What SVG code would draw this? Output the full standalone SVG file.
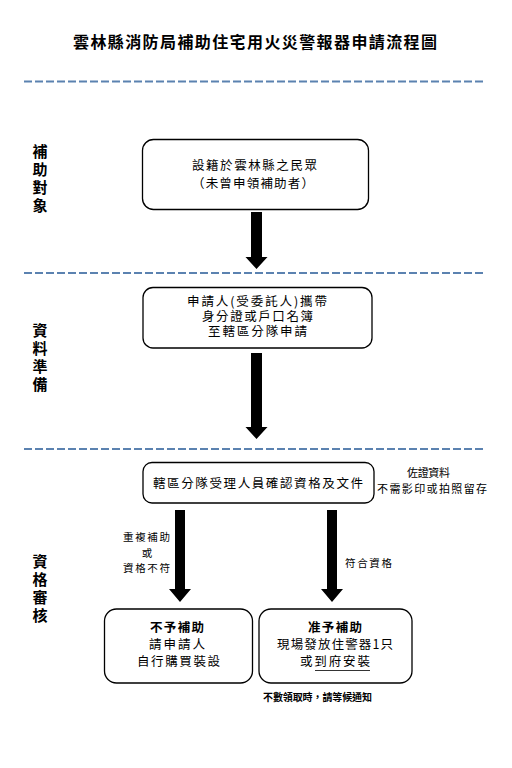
<svg xmlns="http://www.w3.org/2000/svg" width="512" height="768" viewBox="0 0 512 768">
<style>
text{font-family:"Noto Sans CJK TC","Noto Sans CJK SC",sans-serif;fill:#000}
.t{font-size:12.5px}
.b{font-weight:bold}
.lab{font-size:15px;font-weight:bold;text-anchor:middle}
.sm{font-size:10.5px}
.box{fill:#fff;stroke:#000;stroke-width:1.3}
.dash{stroke:#5b82b0;stroke-width:2;stroke-dasharray:8 3;fill:none}
.arr{fill:#000}
</style>
<rect width="512" height="768" fill="#fff"/>
<text x="73" y="48" textLength="364" lengthAdjust="spacing" style="font-size:16px;font-weight:bold">雲林縣消防局補助住宅用火災警報器申請流程圖</text>
<g id="separators">
<line class="dash" x1="24" y1="81.5" x2="486" y2="81.5"/>
<line class="dash" x1="24" y1="273" x2="486" y2="273"/>
<line class="dash" x1="24" y1="449" x2="486" y2="449"/>
</g>
<g id="section-labels">
<text class="lab" x="40" y="157">補</text>
<text class="lab" x="40" y="175">助</text>
<text class="lab" x="40" y="193">對</text>
<text class="lab" x="40" y="211">象</text>
<text class="lab" x="40" y="336">資</text>
<text class="lab" x="40" y="354">料</text>
<text class="lab" x="40" y="372">準</text>
<text class="lab" x="40" y="390">備</text>
<text class="lab" x="40" y="567">資</text>
<text class="lab" x="40" y="585">格</text>
<text class="lab" x="40" y="603">審</text>
<text class="lab" x="40" y="621">核</text>
</g>
<g id="connectors">
<path class="arr" d="M251,212 H262 V257 H267.5 L256.5,269 L245.5,257 H251 Z"/>
<path class="arr" d="M251,353 H262 V427 H267.5 L256.5,439 L245.5,427 H251 Z"/>
<path class="arr" d="M175,510 H185 V589 H191 L180,602 L169,589 H175 Z"/>
<path class="arr" d="M327,510 H337 V589 H343 L332,602 L321,589 H327 Z"/>
<text class="sm" x="123" y="541" textLength="47" lengthAdjust="spacing">重複補助</text>
<text class="sm" x="147" y="557" text-anchor="middle">或</text>
<text class="sm" x="123" y="572" textLength="47" lengthAdjust="spacing">資格不符</text>
<text class="sm" x="345" y="567" textLength="47" lengthAdjust="spacing">符合資格</text>
</g>
<g id="node-target">
<rect class="box" x="142.5" y="139.5" width="226" height="70" rx="11"/>
<text class="t" x="192" y="169.5" textLength="125" lengthAdjust="spacing">設籍於雲林縣之民眾</text>
<text class="t" x="192" y="187.5" textLength="122" lengthAdjust="spacing">（未曾申領補助者）</text>
</g>
<g id="node-prepare">
<rect class="box" x="143" y="287.5" width="229" height="60.5" rx="10"/>
<text class="t" x="187" y="305.5" textLength="140" lengthAdjust="spacing">申請人(受委託人)攜帶</text>
<text class="t" x="202" y="320.5" textLength="111" lengthAdjust="spacing">身分證或戶口名簿</text>
<text class="t" x="208" y="335.5" textLength="99" lengthAdjust="spacing">至轄區分隊申請</text>
</g>
<g id="node-review">
<rect class="box" x="143" y="462.5" width="231" height="40.5" rx="9"/>
<text class="t" x="153" y="487.5" textLength="210" lengthAdjust="spacing">轄區分隊受理人員確認資格及文件</text>
</g>
<g id="note-docs">
<text class="sm" x="407" y="477" textLength="43" lengthAdjust="spacing" style="font-size:11px">佐證資料</text>
<text class="sm" x="377" y="493" textLength="110" lengthAdjust="spacing" style="font-size:11px">不需影印或拍照留存</text>
</g>
<g id="node-reject">
<rect class="box" x="104.5" y="609" width="148" height="74" rx="12"/>
<text class="t b" x="150" y="632" textLength="54" lengthAdjust="spacing">不予補助</text>
<text class="t" x="149" y="649" textLength="56" lengthAdjust="spacing">請申請人</text>
<text class="t" x="137" y="666" textLength="83" lengthAdjust="spacing">自行購買裝設</text>
</g>
<g id="node-approve">
<rect class="box" x="259" y="609" width="153" height="74" rx="12"/>
<text class="t b" x="308" y="632" textLength="54" lengthAdjust="spacing">准予補助</text>
<text class="t" x="277" y="649" textLength="116" lengthAdjust="spacing">現場發放住警器1只</text>
<text class="t" x="300" y="666" textLength="70" lengthAdjust="spacing">或到府安裝</text>
<line x1="315" y1="670.5" x2="370" y2="670.5" stroke="#000" stroke-width="0.8"/>
</g>
<g id="note-wait">
<text x="263" y="701" textLength="109" lengthAdjust="spacing" style="font-size:10px;font-weight:bold">不數領取時，請等候通知</text>
</g>
</svg>
